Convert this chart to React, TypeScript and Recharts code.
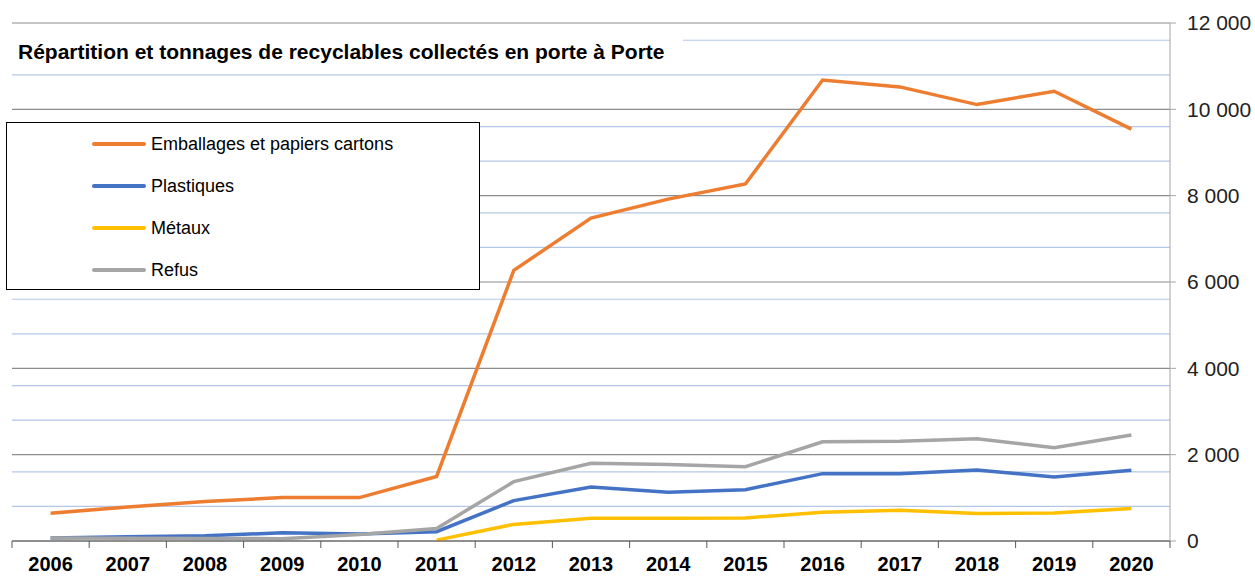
import React from "react";
import {
  LineChart,
  Line,
  XAxis,
  YAxis,
  CartesianGrid,
  Legend,
} from "recharts";

const years = [
  "2006", "2007", "2008", "2009", "2010", "2011", "2012", "2013",
  "2014", "2015", "2016", "2017", "2018", "2019", "2020",
];
const emballages = [645, 790, 915, 1005, 1005, 1495, 6270, 7480, 7920, 8270, 10680, 10520, 10110, 10420, 9540];
const plastiques = [70, 100, 120, 190, 165, 215, 935, 1250, 1130, 1190, 1560, 1560, 1645, 1485, 1640];
const metaux = [null, null, null, null, null, 20, 385, 525, 525, 533, 665, 710, 635, 650, 755];
const refus = [70, 65, 60, 55, 150, 290, 1375, 1800, 1775, 1720, 2300, 2310, 2370, 2160, 2455];

const majorTicks = [0, 2000, 4000, 6000, 8000, 10000, 12000];
const minorTicks = [
  400, 800, 1200, 1600, 2400, 2800, 3200, 3600, 4400, 4800, 5200, 5600,
  6400, 6800, 7200, 7600, 8400, 8800, 9200, 9600, 10400, 10800, 11200, 11600,
];

const series = [
  { key: "emballages", name: "Emballages et papiers cartons", color: "#ED7D31" },
  { key: "plastiques", name: "Plastiques", color: "#4472C4" },
  { key: "metaux", name: "Métaux", color: "#FFC000" },
  { key: "refus", name: "Refus", color: "#A5A5A5" },
];

const data = years.map((year, i) => ({
  year,
  emballages: emballages[i],
  plastiques: plastiques[i],
  metaux: metaux[i],
  refus: refus[i],
}));

const W = 1255;
const H = 576;
const margin = { top: 23, right: 5, left: 12, bottom: 0 };
const Y_AXIS_W = 80;
const X_AXIS_H = 35;
const band = (W - margin.left - margin.right - Y_AXIS_W) / years.length;
const FONT = "'Liberation Sans', Arial, sans-serif";

const fmt = (v: number) => String(v).replace(/\B(?=(\d{3})+(?!\d))/g, " ");

function YearTick(props: any) {
  const { x, y, payload, index } = props;
  const top = y - 7;
  return (
    <g>
      <line x1={x - band / 2} x2={x - band / 2} y1={top} y2={y} stroke="#595959" />
      {index === years.length - 1 && (
        <line x1={x + band / 2} x2={x + band / 2} y1={top} y2={y} stroke="#595959" />
      )}
      <text
        x={x}
        y={y + 23}
        textAnchor="middle"
        fontFamily={FONT}
        fontWeight="bold"
        fontSize={20}
        fill="#000"
      >
        {payload.value}
      </text>
    </g>
  );
}

function LegendBox() {
  return (
    <div style={{ position: "relative", width: "100%", height: "100%" }}>
      {series.map((s, i) => (
        <div
          key={s.key}
          style={{
            position: "absolute",
            left: 85,
            top: 21 + i * 42 - 12,
            height: 24,
            display: "flex",
            alignItems: "center",
            fontFamily: FONT,
            fontSize: 18,
            color: "#000",
            whiteSpace: "nowrap",
          }}
        >
          <span
            style={{
              display: "inline-block",
              width: 54,
              height: 4,
              borderRadius: 2,
              background: s.color,
              marginRight: 5,
            }}
          />
          {s.name}
        </div>
      ))}
    </div>
  );
}

export default function App() {
  return (
    <div style={{ position: "absolute", left: 0, top: 0, width: W, height: H, background: "#fff" }}>
      <LineChart width={W} height={H} data={data} margin={margin}>
        <CartesianGrid vertical={false} horizontalValues={minorTicks} stroke="#b4c7e7" strokeWidth={1.2} />
        <CartesianGrid vertical={false} horizontalValues={majorTicks} stroke="#8c8c8c" strokeWidth={1.2} />
        <XAxis
          dataKey="year"
          scale="band"
          interval={0}
          height={X_AXIS_H}
          tickLine={false}
          tickSize={7}
          tickMargin={0}
          axisLine={{ stroke: "#595959" }}
          tick={<YearTick />}
        />
        <YAxis
          orientation="right"
          width={Y_AXIS_W}
          domain={[0, 12000]}
          ticks={majorTicks}
          tickFormatter={fmt}
          axisLine={{ stroke: "#a6a6a6" }}
          tickLine={{ stroke: "#a6a6a6" }}
          tickSize={6}
          tickMargin={11}
          tick={{ fill: "#222", fontSize: 21, fontFamily: FONT }}
        />
        <Legend
          layout="horizontal"
          align="center"
          verticalAlign="middle"
          content={<LegendBox />}
          wrapperStyle={{
            left: 6,
            top: 122,
            width: 474,
            height: 168,
            background: "#fff",
            border: "1px solid #000",
            boxSizing: "border-box",
          }}
        />
        {series.map((s) => (
          <Line
            key={s.key}
            type="linear"
            dataKey={s.key}
            name={s.name}
            stroke={s.color}
            strokeWidth={3.5}
            dot={false}
            activeDot={false}
            isAnimationActive={false}
          />
        ))}
      </LineChart>
      <div
        style={{
          position: "absolute",
          left: 10,
          top: 33,
          width: 673,
          height: 34,
          paddingTop: 2,
          background: "#fff",
          fontFamily: FONT,
          fontWeight: "bold",
          fontSize: 21,
          lineHeight: "33px",
          paddingLeft: 8,
          boxSizing: "border-box",
          whiteSpace: "nowrap",
        }}
      >
        Répartition et tonnages de recyclables collectés en porte à Porte
      </div>
    </div>
  );
}
